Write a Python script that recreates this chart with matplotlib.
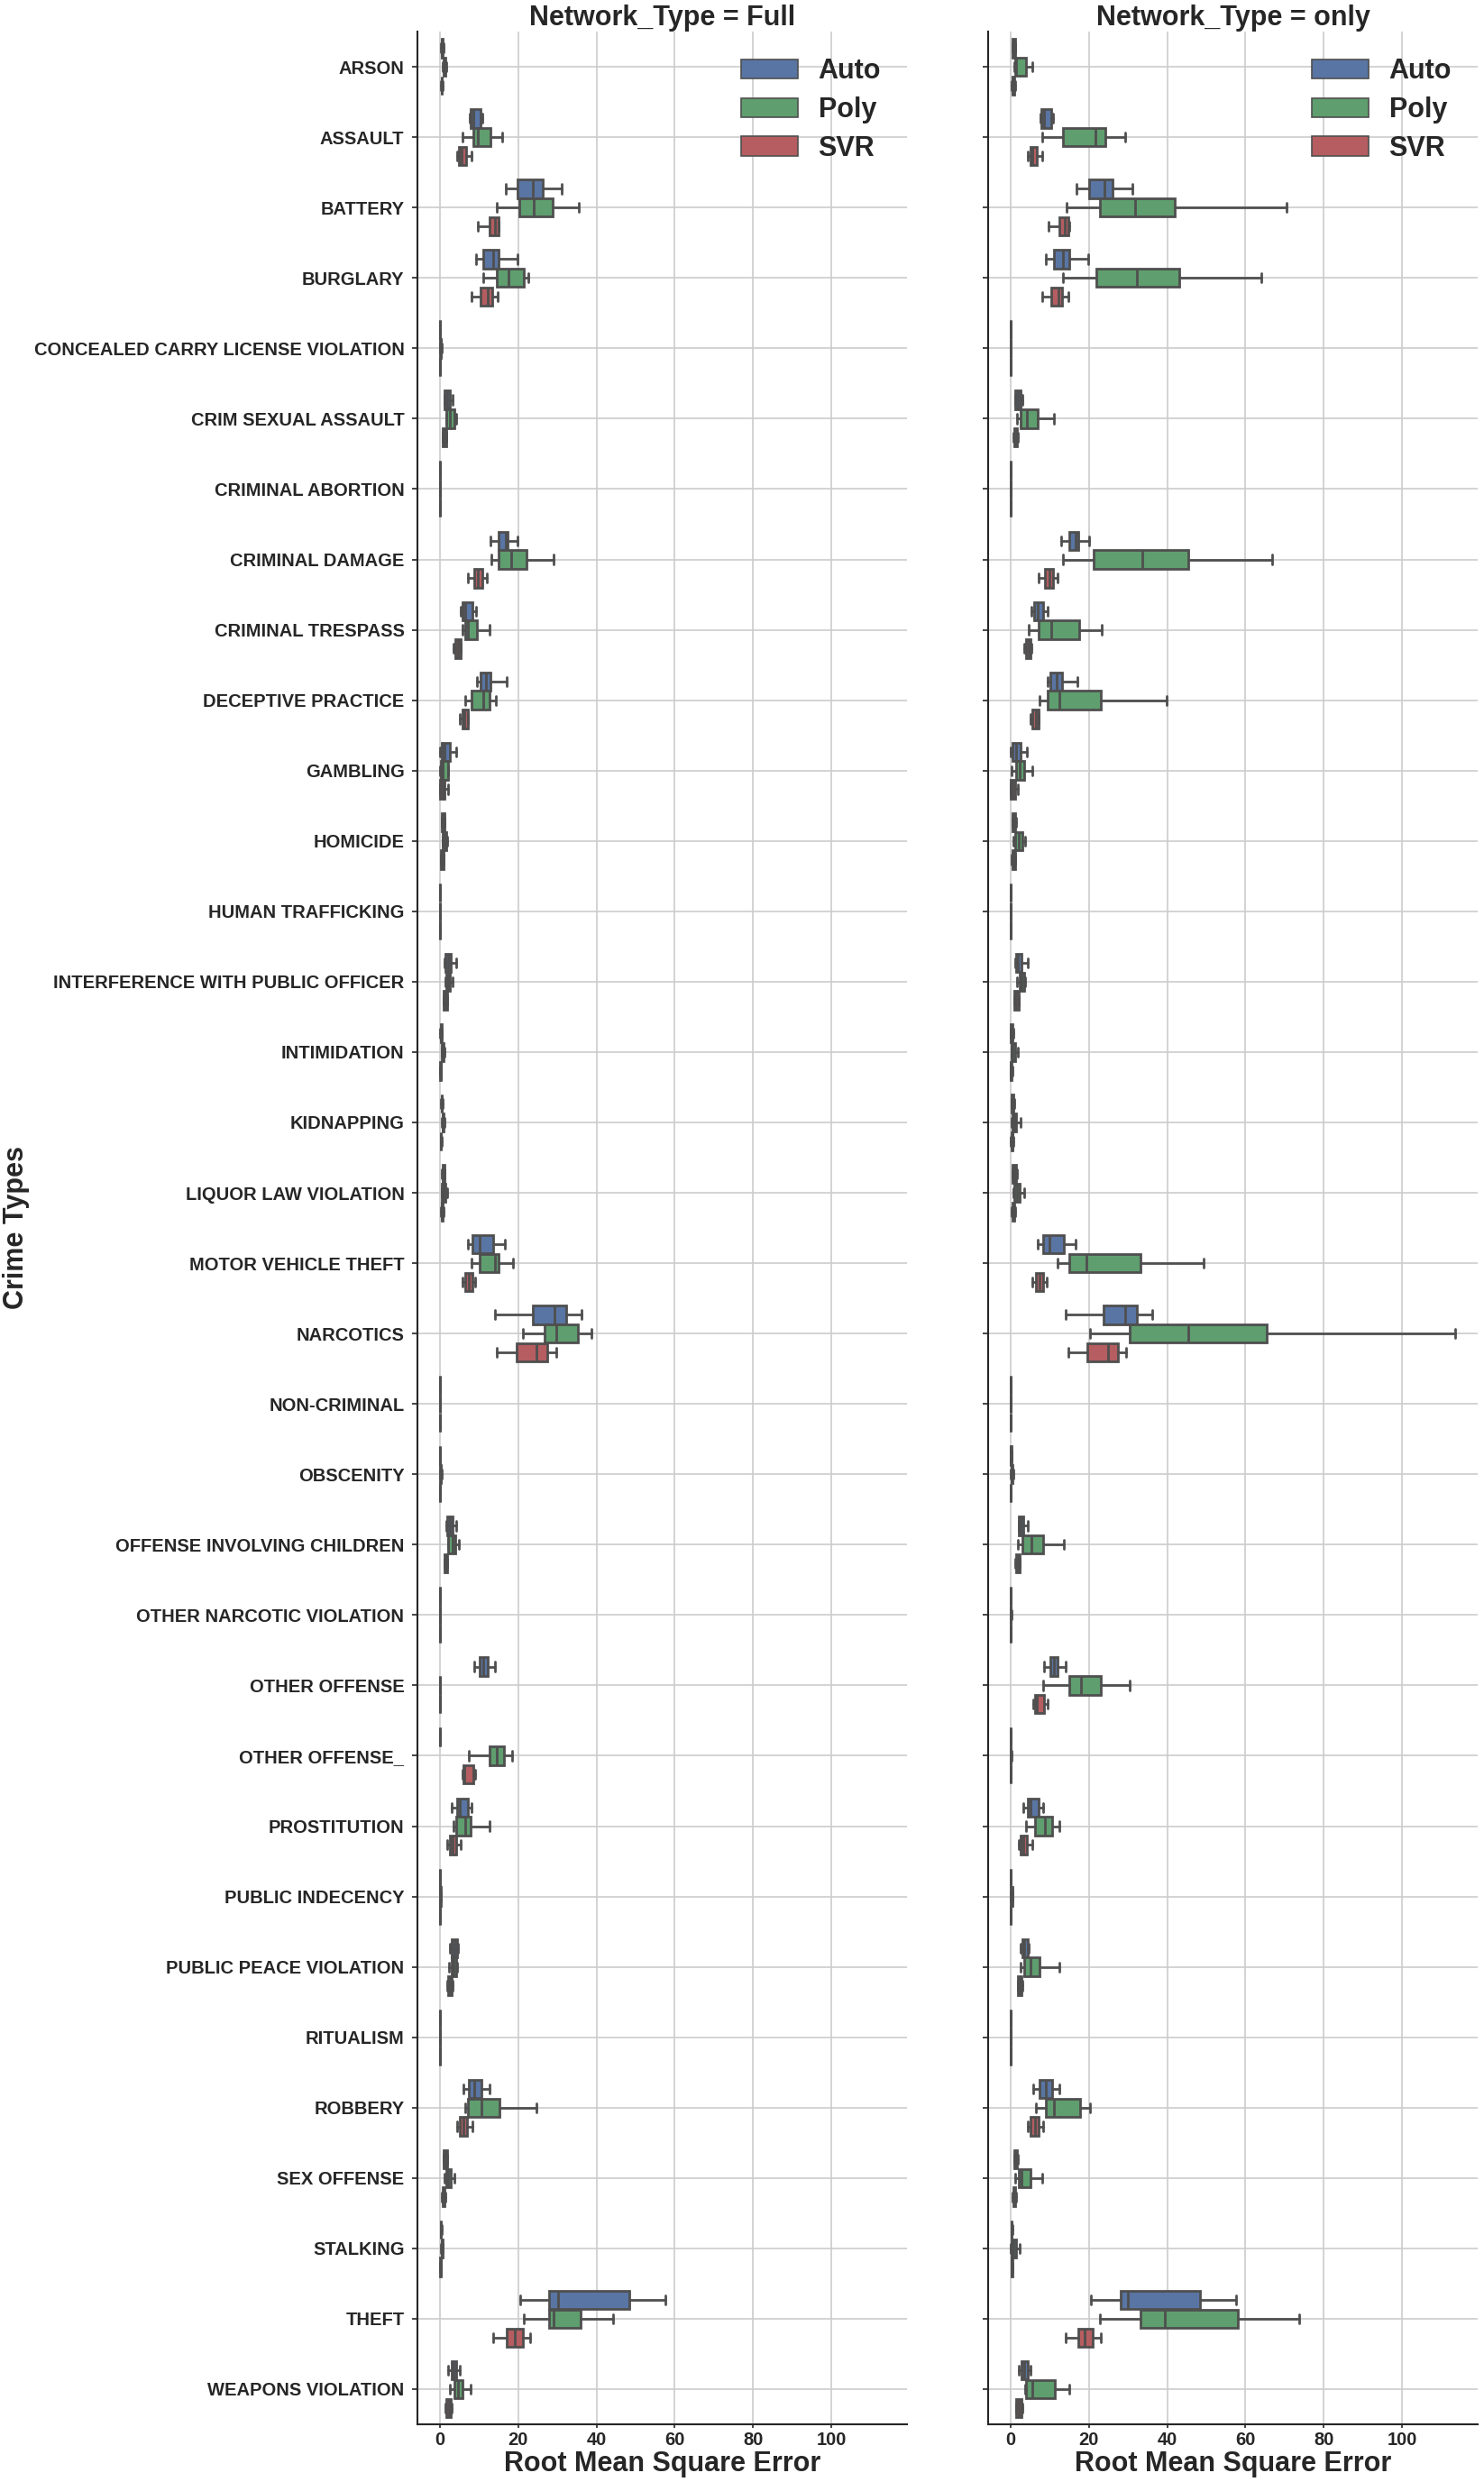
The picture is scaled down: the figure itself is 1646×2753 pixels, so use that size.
import matplotlib
matplotlib.use("Agg")
import matplotlib.pyplot as plt
from matplotlib.patches import Patch
import seaborn as sns

# crime categories (y axis)
categories = [
    "ARSON", "ASSAULT", "BATTERY", "BURGLARY",
    "CONCEALED CARRY LICENSE VIOLATION", "CRIM SEXUAL ASSAULT",
    "CRIMINAL ABORTION", "CRIMINAL DAMAGE", "CRIMINAL TRESPASS",
    "DECEPTIVE PRACTICE", "GAMBLING", "HOMICIDE", "HUMAN TRAFFICKING",
    "INTERFERENCE WITH PUBLIC OFFICER", "INTIMIDATION", "KIDNAPPING",
    "LIQUOR LAW VIOLATION", "MOTOR VEHICLE THEFT", "NARCOTICS",
    "NON-CRIMINAL", "OBSCENITY", "OFFENSE INVOLVING CHILDREN",
    "OTHER NARCOTIC VIOLATION", "OTHER OFFENSE", "OTHER OFFENSE_",
    "PROSTITUTION", "PUBLIC INDECENCY", "PUBLIC PEACE VIOLATION",
    "RITUALISM", "ROBBERY", "SEX OFFENSE", "STALKING", "THEFT",
    "WEAPONS VIOLATION",
]
models = ["Auto", "Poly", "SVR"]
panels = ["Full", "only"]

# (whisker low, q1, median, q3, whisker high) per category
full_auto = [
    (0.3, 0.45, 0.6, 0.75, 0.9), (7.7, 7.9, 8.6, 10.5, 10.9), (16.9, 19.8, 23.8, 26.3, 31.1),
    (9.2, 11.2, 13.6, 14.9, 19.9), (0.0, 0.02, 0.05, 0.08, 0.1), (1.2, 1.3, 1.9, 2.5, 3.3),
    (0, 0, 0, 0, 0), (12.9, 15.1, 16.8, 17.4, 19.9), (5.4, 5.9, 6.6, 8.4, 9.2),
    (9.4, 10.3, 11.7, 13.0, 17.0), (0.15, 0.5, 1.2, 2.5, 4.1), (0.4, 0.55, 0.85, 1.15, 1.3),
    (0, 0.01, 0.03, 0.05, 0.08), (1.2, 1.5, 2.2, 2.8, 4.1), (0.15, 0.2, 0.3, 0.4, 0.5),
    (0.3, 0.4, 0.5, 0.6, 0.75), (0.5, 0.65, 0.9, 1.15, 1.3), (7.1, 8.4, 10.2, 13.7, 16.7),
    (14.1, 23.8, 29.2, 32.3, 36.3), (0, 0, 0, 0, 0), (0.05, 0.08, 0.1, 0.13, 0.15),
    (1.6, 1.9, 2.6, 3.3, 4.1), (0, 0, 0, 0, 0), (8.7, 10.2, 11.2, 12.2, 14.1),
    (0, 0, 0, 0, 0), (3.1, 4.5, 5.1, 7.2, 8.1), (0.05, 0.08, 0.1, 0.12, 0.15),
    (2.5, 3.1, 3.7, 4.4, 4.6), (0, 0, 0, 0, 0), (6.0, 7.5, 8.9, 10.7, 12.6),
    (0.9, 1.0, 1.4, 1.8, 1.9), (0.2, 0.25, 0.3, 0.38, 0.45), (20.5, 28.0, 30.2, 48.4, 57.6),
    (2.1, 3.0, 3.6, 4.3, 5.0),
]
full_poly = [
    (0.7, 0.95, 1.2, 1.4, 1.6), (5.9, 8.6, 9.8, 13.0, 16.0), (14.6, 20.2, 24.1, 28.8, 35.5),
    (11.0, 14.5, 17.6, 21.4, 22.7), (0.05, 0.1, 0.2, 0.3, 0.4), (1.55, 1.6, 2.6, 3.7, 4.3),
    (0, 0, 0, 0, 0), (13.2, 15.0, 18.2, 22.1, 29.0), (5.9, 6.5, 7.2, 9.5, 12.6),
    (6.4, 8.2, 11.2, 12.6, 14.4), (0.15, 0.3, 0.85, 2.2, 2.2), (0.7, 0.8, 1.2, 1.6, 1.8),
    (0, 0.01, 0.02, 0.04, 0.06), (1.5, 1.7, 2.2, 2.6, 3.2), (0.4, 0.5, 0.7, 0.9, 1.1),
    (0.5, 0.65, 0.85, 1.05, 1.2), (0.5, 0.6, 1.0, 1.5, 1.9), (8.0, 10.2, 14.1, 15.1, 18.8),
    (21.3, 26.7, 29.7, 35.3, 38.8), (0, 0, 0, 0, 0), (0.1, 0.15, 0.25, 0.35, 0.4),
    (2.1, 2.2, 3.3, 4.0, 4.8), (0, 0, 0, 0, 0), (0, 0, 0, 0, 0),
    (7.4, 12.6, 14.5, 16.5, 18.5), (3.4, 4.3, 6.6, 7.9, 12.8), (0.05, 0.1, 0.15, 0.2, 0.3),
    (2.4, 3.0, 3.6, 4.3, 4.5), (0, 0, 0, 0, 0), (6.4, 7.3, 10.6, 15.3, 24.6),
    (1.1, 1.6, 2.2, 2.8, 3.7), (0.3, 0.45, 0.55, 0.65, 0.8), (21.5, 27.8, 29.0, 36.0, 44.2),
    (2.5, 3.8, 4.7, 5.8, 7.8),
]
full_svr = [
    (0.25, 0.4, 0.5, 0.6, 0.7), (4.5, 4.9, 5.5, 6.8, 8.1), (9.8, 12.6, 14.0, 15.0, 15.1),
    (8.0, 10.5, 12.3, 13.3, 14.7), (0.0, 0.03, 0.06, 0.1, 0.15), (0.7, 0.85, 1.2, 1.55, 1.7),
    (0, 0, 0, 0, 0), (7.1, 8.8, 9.7, 10.8, 12.0), (3.6, 3.9, 4.6, 5.3, 5.3),
    (5.0, 5.7, 6.3, 7.2, 7.3), (0.0, 0.15, 0.7, 1.3, 2.1), (0.25, 0.35, 0.6, 0.95, 1.0),
    (0, 0, 0.02, 0.03, 0.05), (0.9, 1.05, 1.35, 1.8, 1.9), (0.1, 0.15, 0.2, 0.25, 0.3),
    (0.2, 0.25, 0.3, 0.35, 0.4), (0.3, 0.4, 0.6, 0.8, 0.9), (5.7, 6.5, 7.4, 8.4, 9.1),
    (14.6, 19.6, 24.7, 27.4, 29.7), (0, 0, 0, 0, 0), (0.02, 0.03, 0.05, 0.07, 0.08),
    (1.1, 1.2, 1.5, 1.9, 2.0), (0, 0, 0, 0, 0), (0, 0, 0, 0, 0),
    (5.8, 6.1, 6.3, 8.5, 9.1), (1.9, 2.6, 3.3, 4.2, 5.4), (0.03, 0.05, 0.07, 0.09, 0.1),
    (1.9, 2.1, 2.5, 3.1, 3.2), (0, 0, 0, 0, 0), (4.5, 5.2, 6.1, 7.0, 8.3),
    (0.6, 0.7, 1.0, 1.3, 1.35), (0.1, 0.15, 0.2, 0.25, 0.3), (13.7, 17.1, 19.1, 21.2, 23.0),
    (1.4, 1.55, 2.3, 2.9, 3.1),
]
only_auto = [
    (0.5, 0.6, 0.9, 1.2, 1.3), (7.7, 7.9, 8.6, 10.4, 10.9), (16.8, 20.0, 23.9, 26.1, 31.0),
    (9.1, 11.2, 13.5, 15.0, 19.9), (0, 0.02, 0.04, 0.06, 0.08), (1.1, 1.3, 1.9, 2.5, 3.1),
    (0, 0, 0, 0, 0), (13.0, 15.1, 16.5, 17.3, 20.0), (5.4, 6.0, 7.0, 8.3, 9.4),
    (9.4, 10.2, 11.7, 13.2, 17.0), (0.1, 0.4, 1.5, 2.6, 4.1), (0.4, 0.5, 0.8, 1.3, 1.4),
    (0, 0.01, 0.02, 0.03, 0.05), (1.1, 1.4, 1.8, 2.8, 4.3), (0.1, 0.15, 0.3, 0.6, 0.65),
    (0.2, 0.3, 0.5, 0.8, 0.9), (0.4, 0.5, 1.0, 1.5, 1.6), (7.0, 8.4, 9.9, 13.7, 16.7),
    (14.1, 23.7, 29.2, 32.2, 36.1), (0, 0, 0, 0, 0), (0.05, 0.1, 0.15, 0.2, 0.25),
    (2.0, 2.1, 2.6, 3.3, 4.3), (0, 0.02, 0.05, 0.08, 0.1), (8.6, 10.2, 11.1, 12.1, 14.1),
    (0, 0.02, 0.05, 0.08, 0.1), (3.3, 4.3, 5.0, 7.2, 8.3), (0, 0.02, 0.05, 0.08, 0.1),
    (2.5, 3.0, 3.5, 4.4, 4.7), (0, 0, 0, 0, 0), (5.9, 7.5, 9.1, 10.6, 12.5),
    (0.9, 1.0, 1.3, 1.7, 1.8), (0.2, 0.25, 0.3, 0.35, 0.4), (20.5, 28.2, 30.0, 48.3, 57.7),
    (2.0, 2.9, 3.5, 4.3, 5.0),
]
only_poly = [
    (1.0, 1.3, 1.5, 3.9, 5.5), (8.1, 13.4, 21.7, 24.1, 29.2), (14.3, 22.8, 31.9, 42.0, 70.4),
    (13.5, 21.9, 32.2, 43.2, 64.0), (0, 0.02, 0.04, 0.06, 0.08), (1.7, 2.6, 4.1, 6.9, 11.2),
    (0, 0, 0, 0, 0), (13.3, 21.3, 33.7, 45.4, 66.8), (4.7, 7.2, 10.5, 17.6, 23.4),
    (7.3, 9.4, 12.4, 23.0, 39.8), (0.3, 1.4, 2.3, 3.4, 5.5), (0.65, 1.1, 2.0, 3.1, 3.8),
    (0, 0.01, 0.02, 0.03, 0.05), (1.6, 2.4, 2.8, 3.4, 3.7), (0.3, 0.35, 0.6, 1.1, 1.8),
    (0.2, 0.5, 0.9, 1.5, 2.6), (0.65, 1.0, 1.7, 2.4, 3.4), (12.0, 15.1, 19.3, 33.1, 49.3),
    (20.3, 30.5, 45.4, 65.4, 113.6), (0, 0, 0, 0, 0), (0.1, 0.2, 0.35, 0.6, 0.7),
    (1.9, 3.0, 5.4, 8.3, 13.6), (0, 0.03, 0.08, 0.15, 0.2), (8.4, 15.1, 18.1, 23.0, 30.5),
    (0, 0.03, 0.08, 0.15, 0.2), (4.0, 6.3, 8.8, 10.6, 12.4), (0.05, 0.15, 0.3, 0.5, 0.6),
    (2.6, 3.5, 5.1, 7.4, 12.5), (0, 0, 0, 0, 0), (6.4, 9.1, 11.0, 17.8, 20.4),
    (1.3, 2.0, 2.8, 5.0, 8.1), (0.15, 0.3, 0.8, 1.5, 2.3), (22.8, 33.1, 39.4, 58.0, 73.7),
    (3.7, 3.9, 5.6, 11.4, 15.1),
]
only_svr = [
    (0.3, 0.4, 0.6, 0.9, 1.1), (4.5, 5.0, 5.6, 6.7, 8.1), (9.8, 12.5, 13.9, 14.8, 15.0),
    (8.1, 10.5, 12.2, 13.1, 14.7), (0, 0.02, 0.04, 0.06, 0.08), (0.8, 1.0, 1.3, 1.6, 1.8),
    (0, 0, 0, 0, 0), (7.1, 8.8, 9.9, 10.9, 12.1), (3.5, 3.9, 4.6, 5.2, 5.3),
    (5.2, 5.6, 6.4, 7.2, 7.2), (0.0, 0.15, 0.6, 1.3, 1.9), (0.25, 0.4, 0.7, 1.1, 1.2),
    (0, 0.01, 0.02, 0.03, 0.04), (0.9, 1.0, 1.4, 2.0, 2.1), (0.0, 0.05, 0.15, 0.3, 0.4),
    (0.1, 0.2, 0.4, 0.6, 0.7), (0.3, 0.4, 0.7, 1.0, 1.1), (5.6, 6.5, 7.4, 8.3, 9.2),
    (14.7, 19.5, 24.9, 27.4, 29.6), (0, 0, 0, 0, 0), (0.02, 0.04, 0.06, 0.08, 0.1),
    (1.3, 1.4, 1.8, 2.3, 2.4), (0, 0.02, 0.04, 0.06, 0.08), (5.8, 6.3, 6.7, 8.6, 9.4),
    (0, 0.02, 0.04, 0.06, 0.08), (2.0, 2.5, 3.2, 4.2, 5.5), (0, 0.02, 0.05, 0.08, 0.1),
    (1.8, 1.9, 2.4, 2.9, 3.0), (0, 0, 0, 0, 0), (4.4, 5.1, 6.2, 7.2, 8.3),
    (0.6, 0.7, 1.0, 1.3, 1.4), (0.2, 0.25, 0.35, 0.45, 0.5), (14.0, 17.3, 19.0, 21.1, 23.0),
    (1.4, 1.5, 2.2, 2.9, 3.1),
]

sns.set_style("ticks")
plt.rcParams['font.family'] = ['Liberation Sans', 'DejaVu Sans']

base_colors = ["#4C72B0", "#55A868", "#C44E52"]
colors = [sns.desaturate(c, 0.75) for c in base_colors]
line_col = "#4f4f4f"
lw = 2.0

fig = plt.figure(figsize=(16.46, 27.53), dpi=100)
ax1 = fig.add_axes([0.2813, 0.02325, 0.3299, 0.9640])
ax2 = fig.add_axes([0.6659, 0.02325, 0.3299, 0.9640])

n = len(categories)
box_w = 0.8 / len(models)

for ax, title, series in [(ax1, panels[0], [full_auto, full_poly, full_svr]),
                          (ax2, panels[1], [only_auto, only_poly, only_svr])]:
    for h, rows in enumerate(series):
        stats = [dict(whislo=r[0], q1=r[1], med=r[2], q3=r[3], whishi=r[4])
                 for r in rows]
        pos = [i + (h - 1) * box_w for i in range(n)]
        ax.bxp(stats, positions=pos, widths=box_w * 0.98,
               orientation='horizontal', patch_artist=True, showfliers=False,
               manage_ticks=False,
               boxprops=dict(facecolor=colors[h], edgecolor=line_col, linewidth=lw),
               medianprops=dict(color=line_col, linewidth=lw),
               whiskerprops=dict(color=line_col, linewidth=lw),
               capprops=dict(color=line_col, linewidth=lw))

    ax.set_ylim(n - 0.5, -0.5)
    ax.set_xlim(-5.7, 119.3)
    ax.set_yticks(range(n))
    ax.set_yticklabels(categories, fontsize=14.5, fontweight='bold')
    ax.set_xticks([0, 20, 40, 60, 80, 100])
    ax.set_xticklabels(["0", "20", "40", "60", "80", "100"], fontsize=14.5, fontweight='bold')
    ax.grid(True, color='#cccccc', linewidth=1.2)
    ax.set_axisbelow(True)
    ax.tick_params(axis='y', length=4.5, width=1.2, pad=6)
    ax.tick_params(axis='x', length=3, width=1.2, pad=3)
    for s in ['top', 'right']:
        ax.spines[s].set_visible(False)
    for s in ['left', 'bottom']:
        ax.spines[s].set_linewidth(1.5)
        ax.spines[s].set_color('#262626')
    ax.set_title("Network_Type = " + title, fontsize=22, fontweight='bold', pad=3)
    ax.set_xlabel("Root Mean Square Error", fontsize=22, fontweight='bold', labelpad=1)

    handles = [Patch(facecolor=colors[k], edgecolor=line_col, linewidth=1.2, label=m)
               for k, m in enumerate(models)]
    ax.legend(handles=handles, loc='upper right', frameon=False,
              prop={'size': 22, 'weight': 'bold'}, handlelength=2.05,
              handleheight=0.7, handletextpad=0.75, labelspacing=0.42,
              borderaxespad=0.55, bbox_to_anchor=(1.0, 1.0))

ax2.tick_params(axis='y', labelleft=False)

fig.text(0.011, 0.5053, "Crime Types", rotation=90, ha='center', va='center',
         fontsize=22, fontweight='bold')

fig.savefig("out.png", dpi=100)
